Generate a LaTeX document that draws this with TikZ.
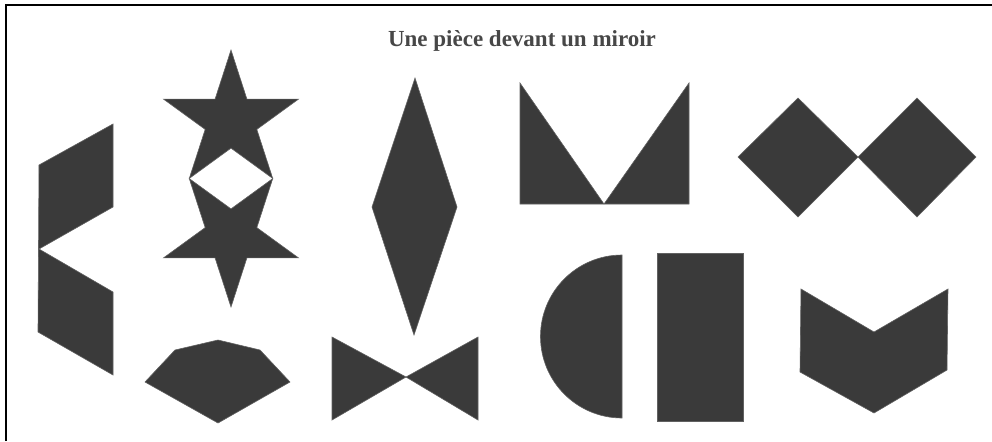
\documentclass[tikz,border=0pt]{standalone}
\usepackage{fontspec}
\setmainfont{Liberation Serif}
\definecolor{PieceGrey}{RGB}{58,58,58}

\begin{document}
\begin{tikzpicture}[
  x=0.5pt, y=-0.5pt,
  piece/.style={fill=PieceGrey, draw=PieceGrey!80, line width=0.3pt, line join=miter},
  frame/.style={draw=black, line width=1pt},
  ttl/.style={font=\fontsize{11.5}{13}\selectfont\bfseries, text=black!72, inner sep=0pt},
]
\useasboundingbox (0,0) rectangle (992,441);

% frame (left and top only)
\draw[frame] (6,441) -- (6,5) -- (992,5);

\node[ttl, anchor=base] (title) at (522,46) {Une pièce devant un miroir};

% notched hexagon
\fill[piece] (39,165) -- (113,124) -- (113,207) -- (39,249) -- (113,292)
  -- (113,375) -- (38,332) -- cycle;

% two stars
\fill[piece] (231,50) -- (246.9,99.1) -- (298.5,99.1) -- (256.8,129.4)
  -- (272.7,178.4) -- (231,148.1) -- (189.3,178.4) -- (205.2,129.4)
  -- (163.5,99.1) -- (215.1,99.1) -- cycle;
\fill[piece] (231,307) -- (246.9,257.9) -- (298.5,257.9) -- (256.8,227.6)
  -- (272.7,178.6) -- (231,208.9) -- (189.3,178.6) -- (205.2,227.6)
  -- (163.5,257.9) -- (215.1,257.9) -- cycle;

% bottom polygon
\fill[piece] (145,382) -- (175,350) -- (218,340) -- (260,350) -- (290,382)
  -- (218,423) -- cycle;

% tall rhombus
\fill[piece] (415,78) -- (457,207) -- (414,335) -- (372,207) -- cycle;

% bow tie
\fill[piece] (332,337) -- (406,377) -- (332,420) -- cycle;
\fill[piece] (478,337) -- (406,377) -- (478,420) -- cycle;

% two right triangles
\fill[piece] (520,83) -- (604,204) -- (689,83) -- (689,204) -- (520,204) -- cycle;

% half disc and rectangle
\fill[piece] (622,255) arc[start angle=90, end angle=270, radius=40.75pt] -- cycle;
\fill[piece] (657,253) rectangle (743,421);

% two squares on a corner
\fill[piece] (738,157) -- (798,98) -- (858,157) -- (798,217) -- cycle;
\fill[piece] (858,157) -- (917,98) -- (976,157) -- (917,217) -- cycle;

% chevron
\fill[piece] (801,289) -- (874,332) -- (948,289) -- (947,370) -- (874,413)
  -- (800,372) -- cycle;
\end{tikzpicture}
\end{document}
